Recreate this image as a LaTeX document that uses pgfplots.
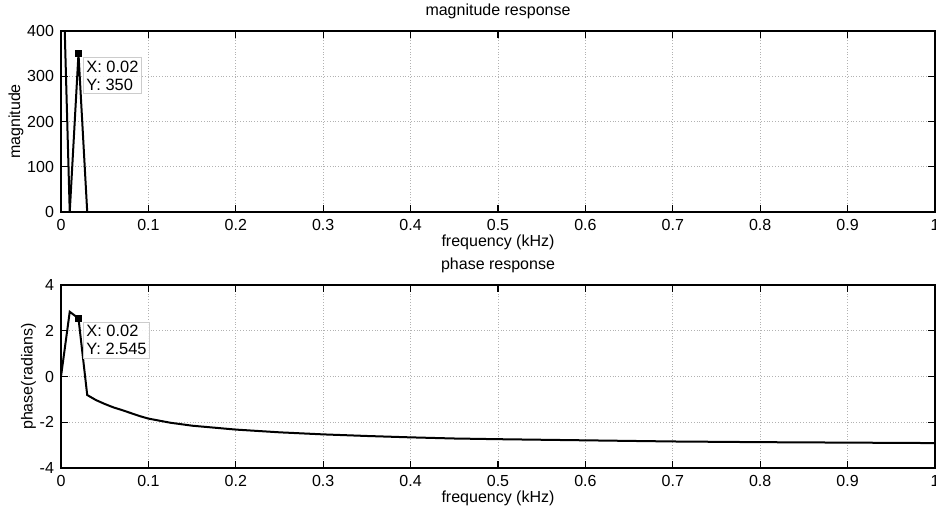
\documentclass[border=0pt]{standalone}
\usepackage{pgfplots}
\pgfplotsset{compat=1.18}
\usepackage{fontspec}
\setmainfont{Liberation Sans}
\tikzset{tip/.style={draw=gray!40, fill=white, fill opacity=0.85, text opacity=1, anchor=north west, align=left, inner sep=1.5pt, font=\fontsize{8.2}{9}\selectfont}}
\begin{document}
\begin{tikzpicture}
\pgfplotsset{
  common/.style={
    width=437pt, scale only axis,
    xmin=0, xmax=1,
    xtick={0,0.1,0.2,0.3,0.4,0.5,0.6,0.7,0.8,0.9,1},
    xticklabels={0,0.1,0.2,0.3,0.4,0.5,0.6,0.7,0.8,0.9,1},
    grid=major,
    major grid style={densely dotted, gray!60, line width=0.5pt},
    tick align=inside,
    major tick length=3.5pt,
    tick style={black, line width=0.6pt},
    axis line style={black, line width=0.8pt},
    /pgf/number format/assume math mode=true,
    tick label style={font=\fontsize{8}{9}\selectfont},
    label style={font=\fontsize{8}{9}\selectfont},
    title style={font=\fontsize{8}{9}\selectfont, yshift=-3.5pt},
    xlabel style={yshift=4.5pt},
    ylabel style={yshift=-5pt},
    xlabel={frequency (kHz)},
    clip=true,
  },
}
\begin{axis}[common, at={(30.5pt,149.5pt)}, anchor=south west, height=90.5pt,
  ymin=0, ymax=400, ytick={0,100,200,300,400},
  ylabel={magnitude}, title={magnitude response}]
\addplot[black, line width=1pt] coordinates {
(0,700) (0.01,0) (0.02,350) (0.03,0) (0.1,0) (0.5,0) (1,0)};
\addplot[only marks, mark=square*, mark size=1.4pt, black] coordinates {(0.02,350)};
\node[tip] at (axis cs:0.0252,342) {X: 0.02\\Y: 350};
\end{axis}
\begin{axis}[common, at={(30.5pt,21.5pt)}, anchor=south west, height=91.5pt,
  ymin=-4, ymax=4, ytick={-4,-2,0,2,4},
  ylabel={phase(radians)}, title={phase response}]
\addplot[black, line width=1pt] coordinates {
(0,0) (0.01,2.83) (0.02,2.545) (0.03,-0.81) (0.04,-1.03) (0.05,-1.2)
(0.06,-1.35) (0.07,-1.47) (0.08,-1.6) (0.09,-1.73) (0.1,-1.84)
(0.125,-2.02) (0.15,-2.15) (0.2,-2.32) (0.25,-2.44) (0.3,-2.53)
(0.35,-2.6) (0.4,-2.66) (0.45,-2.71) (0.5,-2.74) (0.6,-2.79)
(0.7,-2.84) (0.8,-2.87) (0.9,-2.89) (1,-2.91)};
\addplot[only marks, mark=square*, mark size=1.4pt, black] coordinates {(0.02,2.545)};
\node[tip] at (axis cs:0.0252,2.38) {X: 0.02\\Y: 2.545};
\end{axis}
\pgfresetboundingbox
\path[use as bounding box] (0pt,0pt) rectangle (468pt,255.5pt);
\end{tikzpicture}
\end{document}
